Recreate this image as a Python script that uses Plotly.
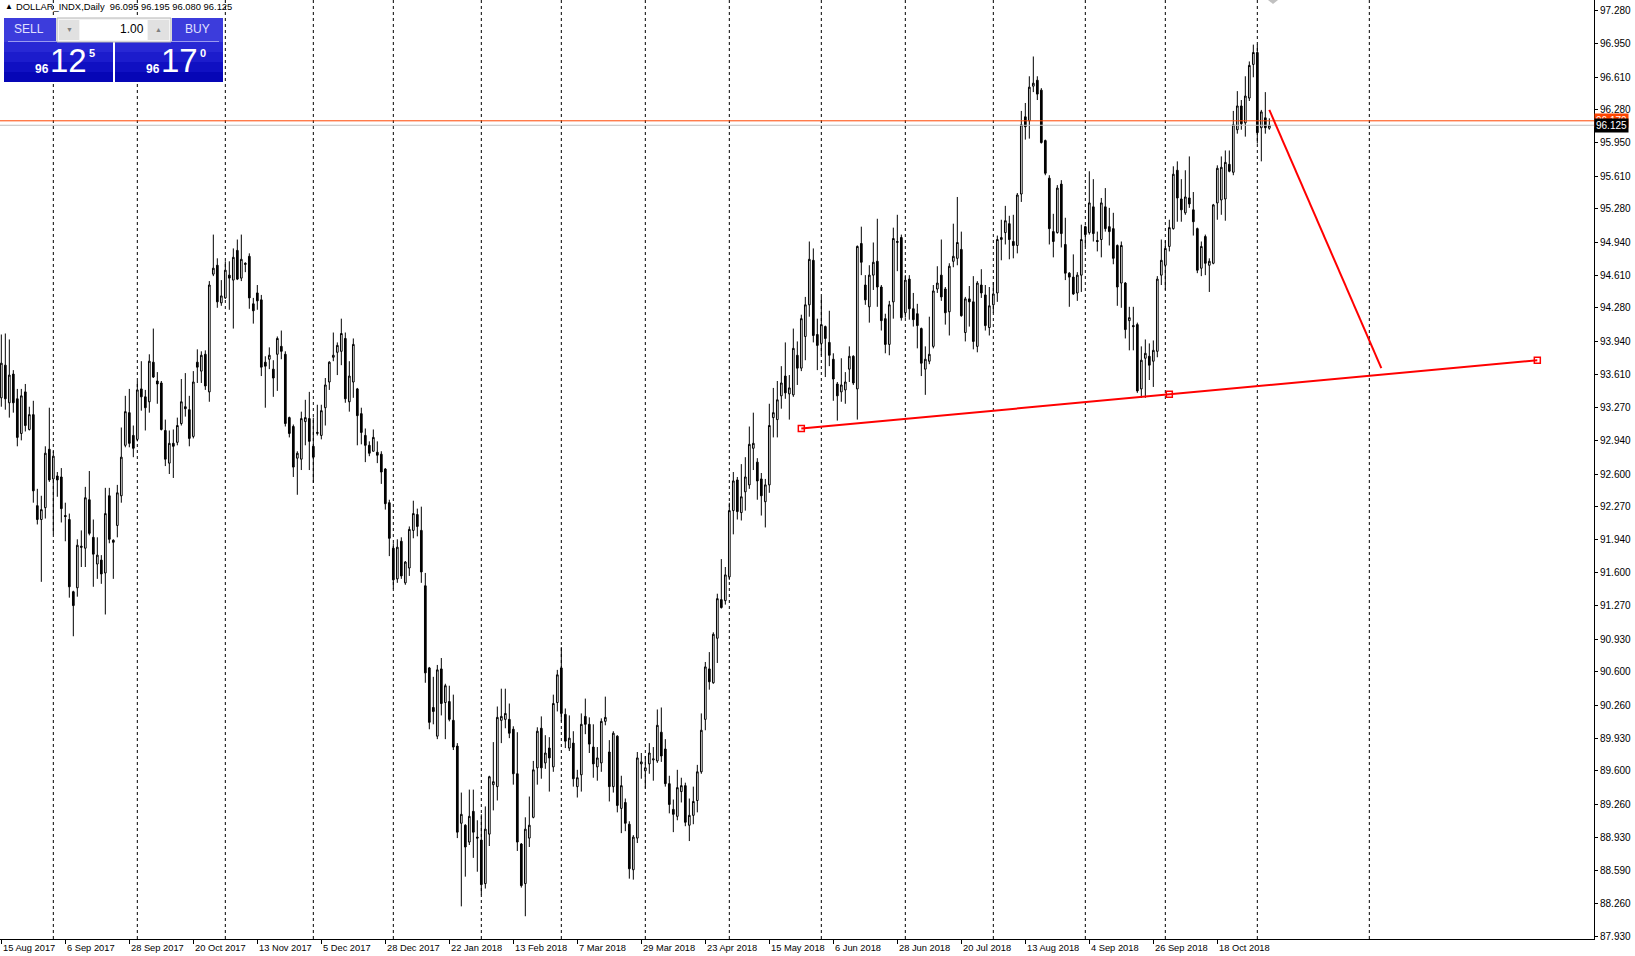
import pandas as pd
import plotly.graph_objects as go

# --- data ---
SYMBOL = "DOLLAR_INDX,Daily"
START_DATE = "2017-08-15"
END_DATE = "2018-11-06"
HOLIDAYS = ["2017-12-25", "2018-01-01", "2018-03-30"]   # no bars on these days
FUTURE_GRID = ["2018-12-01"]                             # month line drawn in the empty space

OPEN = [
    93.37, 93.70, 93.32, 93.61, 93.36, 93.01, 93.43, 93.05, 93.20, 92.28,
    92.14, 92.26, 92.85, 92.55, 92.58, 92.57, 92.18, 92.14, 91.41, 91.45,
    91.87, 91.85, 92.34, 91.96, 91.69, 91.73, 91.60, 92.38, 91.93, 92.08,
    92.38, 92.89, 93.22, 92.99, 92.95, 93.46, 93.38, 93.33, 93.73, 93.54,
    93.52, 93.04, 92.71, 92.91, 92.92, 93.11, 93.28, 93.25, 92.98, 93.73,
    93.64, 93.81, 93.43, 94.62, 94.71, 94.33, 94.38, 94.61, 94.56, 94.86,
    94.58, 94.73, 94.80, 94.32, 94.43, 94.36, 93.73, 93.76, 93.66, 93.81,
    93.89, 93.81, 93.17, 93.08, 92.76, 92.75, 93.13, 93.16, 92.88, 93.01,
    92.99, 93.27, 93.53, 93.78, 93.83, 93.84, 93.97, 93.33, 93.53, 93.46,
    93.21, 92.99, 92.89, 92.83, 92.82, 92.80, 92.65, 92.31, 91.85, 91.54,
    91.92, 91.50, 91.65, 92.03, 92.19, 92.03, 91.47, 90.64, 90.24, 89.95,
    90.63, 90.29, 90.30, 90.11, 89.85, 89.07, 89.05, 88.88, 89.19, 88.93,
    88.90, 88.46, 88.96, 89.46, 89.44, 90.11, 90.12, 90.12, 90.02, 89.57,
    88.86, 88.46, 88.92, 89.13, 89.63, 90.03, 89.68, 89.83, 89.64, 90.29,
    90.64, 90.17, 89.83, 89.88, 89.44, 89.56, 90.15, 90.07, 89.84, 89.64,
    89.68, 90.10, 89.79, 89.44, 89.95, 89.22, 89.28, 89.06, 88.60, 88.92,
    89.67, 89.60, 89.67, 89.71, 89.70, 89.99, 89.82, 89.47, 89.21, 89.14,
    89.39, 89.45, 89.05, 89.15, 89.30, 89.59, 90.12, 90.63, 90.49, 90.94,
    91.33, 91.32, 91.56, 92.23, 92.54, 92.21, 92.42, 92.49, 92.86, 92.72,
    92.55, 92.32, 92.49, 93.17, 93.15, 93.39, 93.59, 93.41, 93.40, 93.80,
    93.67, 93.99, 94.31, 94.76, 94.01, 93.92, 94.09, 93.93, 93.76, 93.51,
    93.43, 93.45, 93.66, 93.79, 93.46, 94.93, 94.51, 94.29, 94.61, 94.75,
    94.49, 94.17, 93.91, 94.34, 94.94, 94.99, 94.23, 94.57, 94.27, 94.22,
    94.07, 93.66, 93.74, 93.89, 94.47, 94.61, 94.47, 94.24, 94.75, 94.78,
    94.87, 94.03, 94.37, 94.34, 93.89, 94.51, 94.41, 94.08, 94.31, 94.43,
    94.97, 95.04, 95.13, 94.95, 94.91, 95.43, 96.21, 96.17, 96.52, 96.58,
    96.48, 95.97, 95.59, 95.05, 95.04, 95.53, 94.92, 94.63, 94.59, 94.43,
    94.61, 95.10, 95.04, 95.30, 94.96, 94.97, 95.30, 95.10, 95.08, 94.91,
    94.53, 94.53, 94.15, 94.10, 94.11, 93.46, 93.77, 93.79, 93.74, 93.84,
    94.61, 94.71, 94.90, 95.08, 95.67, 95.38, 95.24, 95.39, 95.27, 95.08,
    94.68, 95.00, 94.71, 94.73, 95.34, 95.37, 95.38, 95.73, 95.65, 96.08,
    96.32, 96.15, 96.40, 96.74, 96.86, 96.10, 96.20, 96.095,
]
HIGH = [
    94.01, 94.02, 93.96, 93.65, 93.46, 93.46, 93.51, 93.28, 93.34, 92.45,
    92.38, 92.88, 93.27, 92.83, 92.62, 92.66, 92.31, 92.20, 91.42, 91.94,
    92.03, 92.47, 92.63, 92.14, 91.96, 91.78, 92.46, 92.46, 91.94, 92.49,
    93.07, 93.39, 93.46, 93.09, 93.54, 93.74, 93.45, 93.81, 94.07, 93.63,
    93.54, 93.15, 93.04, 93.05, 93.17, 93.56, 93.62, 93.39, 93.64, 93.86,
    93.84, 93.85, 94.55, 95.02, 94.78, 94.56, 94.75, 94.75, 94.88, 94.97,
    95.02, 94.74, 94.83, 94.38, 94.51, 94.41, 93.79, 93.88, 93.75, 93.99,
    94.05, 93.84, 93.18, 93.10, 92.83, 93.23, 93.35, 93.43, 93.17, 93.30,
    93.30, 93.57, 93.74, 94.03, 93.93, 94.17, 94.03, 93.74, 93.97, 93.47,
    93.27, 93.06, 92.93, 93.05, 92.93, 92.83, 92.66, 92.34, 91.90, 91.94,
    91.96, 91.72, 92.07, 92.33, 92.25, 92.27, 91.60, 90.65, 90.55, 90.67,
    90.74, 90.48, 90.46, 90.37, 89.88, 89.38, 89.06, 89.41, 89.41, 89.10,
    89.16, 89.24, 89.55, 89.89, 90.25, 90.43, 90.43, 90.28, 90.05, 89.99,
    88.87, 89.13, 89.34, 89.70, 90.04, 90.15, 89.96, 89.94, 90.37, 90.62,
    90.85, 90.23, 90.16, 90.00, 89.61, 90.18, 90.33, 90.14, 90.07, 89.84,
    90.13, 90.35, 89.91, 90.00, 89.96, 89.55, 89.32, 89.09, 88.95, 89.79,
    89.78, 89.75, 89.88, 89.84, 90.22, 90.24, 89.92, 89.55, 89.31, 89.61,
    89.53, 89.48, 89.32, 89.44, 89.66, 90.18, 90.70, 90.80, 91.00, 91.39,
    91.74, 91.66, 92.31, 92.62, 92.57, 92.70, 92.77, 93.08, 93.22, 92.76,
    92.61, 92.55, 93.31, 93.47, 93.54, 93.69, 93.93, 93.60, 94.07, 93.94,
    94.21, 94.39, 94.95, 94.88, 94.17, 94.39, 94.10, 94.25, 93.82, 93.53,
    93.77, 93.63, 93.89, 93.80, 94.91, 95.10, 94.61, 94.71, 94.94, 95.18,
    94.51, 94.22, 94.35, 95.09, 95.22, 95.02, 94.61, 94.61, 94.43, 94.32,
    94.08, 93.89, 94.19, 94.51, 94.70, 94.97, 94.49, 94.73, 95.13, 95.40,
    95.05, 94.39, 94.50, 94.60, 94.55, 94.67, 94.51, 94.49, 94.54, 95.01,
    95.17, 95.31, 95.21, 95.22, 95.44, 96.27, 96.35, 96.62, 96.82, 96.62,
    96.50, 95.98, 95.62, 95.23, 95.52, 95.57, 95.19, 94.64, 94.82, 94.64,
    95.12, 95.11, 95.66, 95.58, 95.05, 95.39, 95.49, 95.29, 95.24, 94.92,
    94.95, 94.54, 94.29, 94.29, 94.13, 93.89, 93.96, 93.92, 93.95, 94.60,
    94.97, 94.96, 95.17, 95.71, 95.76, 95.58, 95.67, 95.81, 95.45, 95.09,
    94.95, 95.02, 94.78, 95.33, 95.72, 95.81, 95.87, 95.87, 96.27, 96.47,
    96.38, 96.62, 96.77, 96.94, 96.94, 96.28, 96.46, 96.195,
]
LOW = [
    93.28, 93.25, 93.17, 93.22, 92.88, 92.94, 93.03, 93.04, 92.31, 92.09,
    91.51, 92.15, 92.52, 91.99, 92.37, 92.11, 91.92, 91.35, 90.96, 91.36,
    91.66, 91.66, 91.98, 91.46, 91.54, 91.49, 91.18, 91.90, 91.54, 91.96,
    92.31, 92.87, 92.87, 92.77, 92.93, 93.24, 93.04, 93.22, 93.57, 93.31,
    93.04, 92.68, 92.60, 92.56, 92.89, 93.09, 93.18, 92.88, 92.96, 93.52,
    93.52, 93.45, 93.33, 94.60, 94.28, 94.30, 94.37, 94.26, 94.07, 94.56,
    94.55, 94.64, 94.27, 94.12, 94.26, 93.59, 93.27, 93.66, 93.38, 93.44,
    93.76, 93.08, 92.97, 92.57, 92.39, 92.64, 92.89, 92.64, 92.51, 92.99,
    92.95, 93.09, 93.45, 93.74, 93.60, 93.70, 93.32, 93.23, 93.37, 92.89,
    92.90, 92.72, 92.78, 92.83, 92.71, 92.50, 92.24, 91.77, 91.44, 91.50,
    91.54, 91.48, 91.57, 91.95, 91.97, 91.50, 90.49, 90.02, 90.07, 89.92,
    90.16, 89.92, 90.10, 89.81, 88.92, 88.23, 88.53, 88.85, 88.72, 88.58,
    88.35, 88.41, 88.84, 89.20, 89.30, 89.88, 90.03, 89.93, 89.46, 88.79,
    88.42, 88.13, 88.83, 89.12, 89.46, 89.52, 89.62, 89.39, 89.59, 90.20,
    90.10, 89.83, 89.80, 89.44, 89.33, 89.39, 89.97, 89.78, 89.53, 89.50,
    89.59, 90.06, 89.29, 89.38, 89.18, 88.97, 88.99, 88.51, 88.50, 88.87,
    89.52, 89.42, 89.57, 89.50, 89.68, 89.69, 89.44, 89.17, 88.98, 89.10,
    89.28, 89.04, 88.89, 89.06, 89.18, 89.57, 90.01, 90.42, 90.48, 90.69,
    91.24, 91.28, 91.53, 91.99, 92.14, 92.13, 92.23, 92.45, 92.64, 92.34,
    92.18, 92.06, 92.41, 92.97, 92.97, 93.26, 93.36, 93.15, 93.38, 93.50,
    93.64, 93.75, 94.19, 93.93, 93.65, 93.80, 93.58, 93.69, 93.34, 93.14,
    93.33, 93.31, 93.53, 93.50, 93.15, 94.61, 94.31, 94.13, 94.46, 94.29,
    94.05, 93.82, 93.80, 94.17, 94.65, 94.15, 94.18, 94.16, 94.09, 93.87,
    93.59, 93.40, 93.71, 93.87, 94.43, 94.35, 94.11, 94.00, 94.69, 94.71,
    94.19, 93.94, 94.09, 93.86, 93.83, 94.38, 94.05, 94.00, 94.23, 94.34,
    94.76, 94.92, 94.77, 94.78, 94.83, 95.35, 95.98, 95.99, 96.46, 96.38,
    95.94, 95.62, 94.92, 94.79, 95.03, 94.89, 94.56, 94.29, 94.41, 94.35,
    94.44, 94.90, 95.02, 94.95, 94.85, 94.79, 95.05, 94.91, 94.72, 94.30,
    94.28, 93.97, 93.85, 93.85, 93.42, 93.37, 93.37, 93.55, 93.48, 93.78,
    94.51, 94.46, 94.85, 95.07, 95.15, 95.15, 95.22, 95.29, 95.01, 94.63,
    94.60, 94.61, 94.44, 94.72, 95.17, 95.22, 95.16, 95.65, 95.62, 96.04,
    96.08, 96.01, 96.37, 96.61, 95.94, 95.76, 96.04, 96.080,
]
CLOSE = [
    93.72, 93.36, 93.60, 93.32, 92.97, 93.39, 93.09, 93.20, 92.43, 92.14,
    92.24, 92.81, 92.54, 92.78, 92.54, 92.25, 92.17, 91.46, 91.27, 91.88,
    91.86, 92.36, 92.00, 91.79, 91.78, 91.59, 92.20, 91.94, 91.91, 92.41,
    92.77, 93.23, 92.91, 92.86, 93.45, 93.38, 93.27, 93.74, 93.58, 93.51,
    93.05, 92.75, 92.91, 92.88, 93.09, 93.33, 93.26, 92.96, 93.53, 93.68,
    93.80, 93.49, 94.51, 94.68, 94.34, 94.40, 94.66, 94.58, 94.79, 94.57,
    94.77, 94.72, 94.38, 94.25, 94.35, 93.68, 93.69, 93.80, 93.57, 93.97,
    93.84, 93.11, 93.01, 92.67, 92.81, 93.16, 93.17, 92.93, 92.77, 93.02,
    93.24, 93.50, 93.73, 93.80, 93.90, 94.02, 93.36, 93.59, 93.91, 93.19,
    93.02, 92.89, 92.81, 92.97, 92.79, 92.62, 92.30, 91.95, 91.53, 91.86,
    91.57, 91.71, 92.04, 92.20, 92.07, 91.61, 90.59, 90.09, 90.20, 90.62,
    90.28, 90.46, 90.12, 89.84, 88.98, 89.16, 88.83, 89.14, 88.98, 88.92,
    88.45, 89.01, 89.54, 89.49, 90.14, 90.15, 90.18, 89.98, 89.57, 88.88,
    88.44, 89.01, 89.05, 89.61, 90.00, 89.63, 89.78, 89.73, 90.28, 90.57,
    90.18, 89.90, 89.93, 89.52, 89.53, 90.07, 90.07, 89.87, 89.67, 89.73,
    90.10, 90.14, 89.44, 89.98, 89.25, 89.45, 89.07, 88.61, 88.93, 89.73,
    89.69, 89.63, 89.78, 89.72, 90.06, 89.75, 89.47, 89.26, 89.16, 89.43,
    89.45, 89.08, 89.15, 89.29, 89.59, 90.01, 90.65, 90.50, 90.98, 91.34,
    91.25, 91.58, 92.23, 92.53, 92.22, 92.37, 92.57, 92.90, 92.91, 92.53,
    92.38, 92.49, 93.09, 93.22, 93.35, 93.52, 93.42, 93.47, 93.87, 93.67,
    94.17, 94.31, 94.77, 94.00, 93.90, 94.11, 93.97, 93.80, 93.56, 93.39,
    93.50, 93.53, 93.79, 93.52, 94.90, 94.74, 94.36, 94.61, 94.74, 94.49,
    94.15, 93.91, 94.31, 94.98, 94.95, 94.18, 94.56, 94.27, 94.16, 94.10,
    93.72, 93.76, 93.81, 94.45, 94.53, 94.39, 94.23, 94.70, 94.80, 94.94,
    94.20, 94.37, 94.34, 93.94, 94.53, 94.43, 94.10, 94.30, 94.42, 94.97,
    94.99, 95.16, 94.97, 94.91, 95.42, 96.13, 96.11, 96.51, 96.55, 96.44,
    95.95, 95.64, 95.08, 94.95, 95.49, 95.03, 94.63, 94.59, 94.42, 94.61,
    94.97, 95.02, 95.34, 95.03, 94.95, 95.34, 95.08, 95.05, 94.78, 94.49,
    94.91, 94.06, 94.18, 94.09, 93.44, 93.75, 93.82, 93.70, 93.85, 94.57,
    94.76, 94.88, 95.09, 95.63, 95.39, 95.27, 95.40, 95.33, 95.15, 94.66,
    94.90, 94.73, 94.75, 95.32, 95.69, 95.70, 95.75, 95.66, 96.13, 96.32,
    96.14, 96.42, 96.73, 96.86, 96.05, 96.26, 96.10, 96.125,
]

BID = 96.125
ASK = 96.170
LOT = "1.00"

PRICE_TICKS = [97.280, 96.950, 96.610, 96.280, 95.950, 95.610, 95.280, 94.940,
               94.610, 94.280, 93.940, 93.610, 93.270, 92.940, 92.600, 92.270,
               91.940, 91.600, 91.270, 90.930, 90.600, 90.260, 89.930, 89.600,
               89.260, 88.930, 88.590, 88.260, 87.930]

# drawn objects (bar index, price)
TREND_X = [200, 384]
TREND_Y = [93.06, 93.75]
LINE_X = [317, 345]
LINE_Y = [96.28, 93.67]

# --- window geometry (MT4 style) ---
W, H = 1635, 956
PLOT_W, PLOT_H = 1594, 939
BAR_PX = 4
X0 = -0.33
Y_RANGE = [87.900, 97.391]
FONT = "Liberation Sans"


def fx(p):
    return p / PLOT_W


def fy(p):
    return 1 - p / PLOT_H


# --- dates ---
dates = pd.bdate_range(START_DATE, END_DATE)
dates = dates[~dates.isin(pd.to_datetime(HOLIDAYS))]
idx = list(range(len(dates)))

month_starts = [i for i in idx[1:] if dates[i].month != dates[i - 1].month]
month_starts += [idx[-1] + (pd.Timestamp(d) - dates[-1]).days for d in FUTURE_GRID]
label_idx = idx[::16]

fig = go.Figure()

fig.add_trace(go.Candlestick(
    x=idx, open=OPEN, high=HIGH, low=LOW, close=CLOSE,
    increasing=dict(line=dict(color="black", width=1), fillcolor="white"),
    decreasing=dict(line=dict(color="black", width=1), fillcolor="black"),
    whiskerwidth=0, hoverinfo="skip", showlegend=False,
))

# trendline anchors (MT4 draws a square on each end and the middle)
fig.add_trace(go.Scatter(
    x=[TREND_X[0], sum(TREND_X) / 2, TREND_X[1]],
    y=[TREND_Y[0], sum(TREND_Y) / 2, TREND_Y[1]],
    mode="markers", hoverinfo="skip", showlegend=False,
    marker=dict(symbol="square", size=6, color="white", line=dict(color="red", width=1.5)),
))

shapes = []
# month grid
for m in month_starts:
    shapes.append(dict(type="line", xref="x", yref="paper", x0=m, x1=m, y0=0, y1=1,
                       line=dict(color="black", width=1, dash="3px,3px"), layer="below"))
# ask / bid lines
shapes.append(dict(type="line", xref="paper", yref="y", x0=0, x1=1, y0=ASK, y1=ASK,
                   line=dict(color="#ff4500", width=1)))
shapes.append(dict(type="line", xref="paper", yref="y", x0=0, x1=1, y0=BID, y1=BID,
                   line=dict(color="#c0c0c0", width=1)))
# red drawings
shapes.append(dict(type="line", xref="x", yref="y", x0=TREND_X[0], y0=TREND_Y[0],
                   x1=TREND_X[1], y1=TREND_Y[1], line=dict(color="red", width=2)))
shapes.append(dict(type="line", xref="x", yref="y", x0=LINE_X[0], y0=LINE_Y[0],
                   x1=LINE_X[1], y1=LINE_Y[1], line=dict(color="red", width=2)))
# chart shift marker
shapes.append(dict(type="path", xref="paper", yref="paper",
                   path=f"M {fx(1268)} {fy(0)} L {fx(1278)} {fy(0)} L {fx(1273)} {fy(4)} Z",
                   fillcolor="#c0c0c0", line=dict(width=0)))


def rect(x0, y0, x1, y1, fill, line=None):
    shapes.append(dict(type="rect", xref="paper", yref="paper",
                       x0=fx(x0), x1=fx(x1), y0=fy(y1), y1=fy(y0),
                       fillcolor=fill, line=dict(color=line or fill, width=1 if line else 0),
                       layer="above"))


# one-click trading panel
for left, right in [(4, 56), (172, 223)]:
    rect(left, 18, right, 42, "#3c3cdc")
for left, right in [(4, 113), (115, 223)]:
    for k, col in enumerate(["#2828d4", "#1c1ccc", "#1010c2", "#0606b6"]):
        rect(left, 42 + k * 10, right, 52 + k * 10, col)
    rect(left + 4, 41, right - 4, 42, "#9a9af0")
rect(57, 18, 171, 42, "#f4f4f4", "#b4b4b4")
rect(59, 20, 79, 40, "#e1e1e1")
rect(80, 20, 147, 40, "white")
rect(148, 20, 169, 40, "#e1e1e1")

ann = []


def text(x, y, s, size, color="white", anchor="center", bold=False):
    if bold:
        s = f"<b>{s}</b>"
    ann.append(dict(xref="paper", yref="paper", x=fx(x), y=fy(y), text=s, showarrow=False,
                    xanchor=anchor, yanchor="middle",
                    font=dict(family=FONT, size=size, color=color)))


def quote(value, cx):
    s = f"{value:.3f}"
    head, big, tail = s[:2], s[3:5], s[5]
    text(cx - 26, 69, head, 12, bold=True)
    text(cx, 61, big, 33)
    text(cx + 24, 53, tail, 11, bold=True)


text(29, 29, "SELL", 12, "#e0e0ff")
text(197, 29, "BUY", 12, "#e0e0ff")
text(146, 29, LOT, 12, "black", anchor="right")
text(69, 30, "▼", 7, "#808080")
text(158, 29, "▲", 7, "#808080")
quote(BID, 68)
quote(ASK, 179)

# header line
header = f"{SYMBOL}  {OPEN[-1]:.3f} {HIGH[-1]:.3f} {LOW[-1]:.3f} {CLOSE[-1]:.3f}"
text(3, 6.5, "▲", 8, "black", anchor="left")
text(14, 6.5, header, 9.4, "black", anchor="left")

# time labels, left aligned at the bar like MT4
for i in label_idx:
    d = dates[i]
    ann.append(dict(xref="x", yref="paper", x=i, y=0, yshift=-2, xanchor="left", yanchor="top",
                    text=f"{d.day} {d.strftime('%b %Y')}", showarrow=False,
                    font=dict(family=FONT, size=9.3, color="black")))

# price boxes on the scale
for val, col in [(ASK, "#ff4500"), (BID, "black")]:
    ann.append(dict(xref="paper", yref="y", x=1, y=val, xanchor="left", yanchor="middle",
                    text=f"{val:.3f}", showarrow=False, bgcolor=col, borderpad=1,
                    font=dict(family=FONT, size=10, color="white")))

fig.update_layout(
    width=W, height=H,
    margin=dict(l=0, r=W - PLOT_W, t=0, b=H - PLOT_H, autoexpand=False),
    paper_bgcolor="white", plot_bgcolor="white",
    boxgap=0.4,
    shapes=shapes, annotations=ann,
    xaxis=dict(range=[X0, X0 + PLOT_W / BAR_PX], rangeslider=dict(visible=False),
               showgrid=False, zeroline=False, showline=True, linecolor="black", linewidth=1,
               tickvals=label_idx, ticks="outside", ticklen=4, tickcolor="black",
               showticklabels=False, fixedrange=True),
    yaxis=dict(range=Y_RANGE, side="right", showgrid=False, zeroline=False,
               showline=True, linecolor="black", linewidth=1, mirror=True,
               tickvals=PRICE_TICKS, ticktext=[f"{v:.3f}" for v in PRICE_TICKS],
               ticks="outside", ticklen=3, tickcolor="black",
               tickfont=dict(family=FONT, size=10, color="black"), fixedrange=True),
    font=dict(family=FONT, size=10, color="black"),
)

# the page body has a default 8px margin; drop it so the chart fills the window
fig.write_html("out.html", config={"displayModeBar": False},
               post_script="document.body.style.margin = '0';")
